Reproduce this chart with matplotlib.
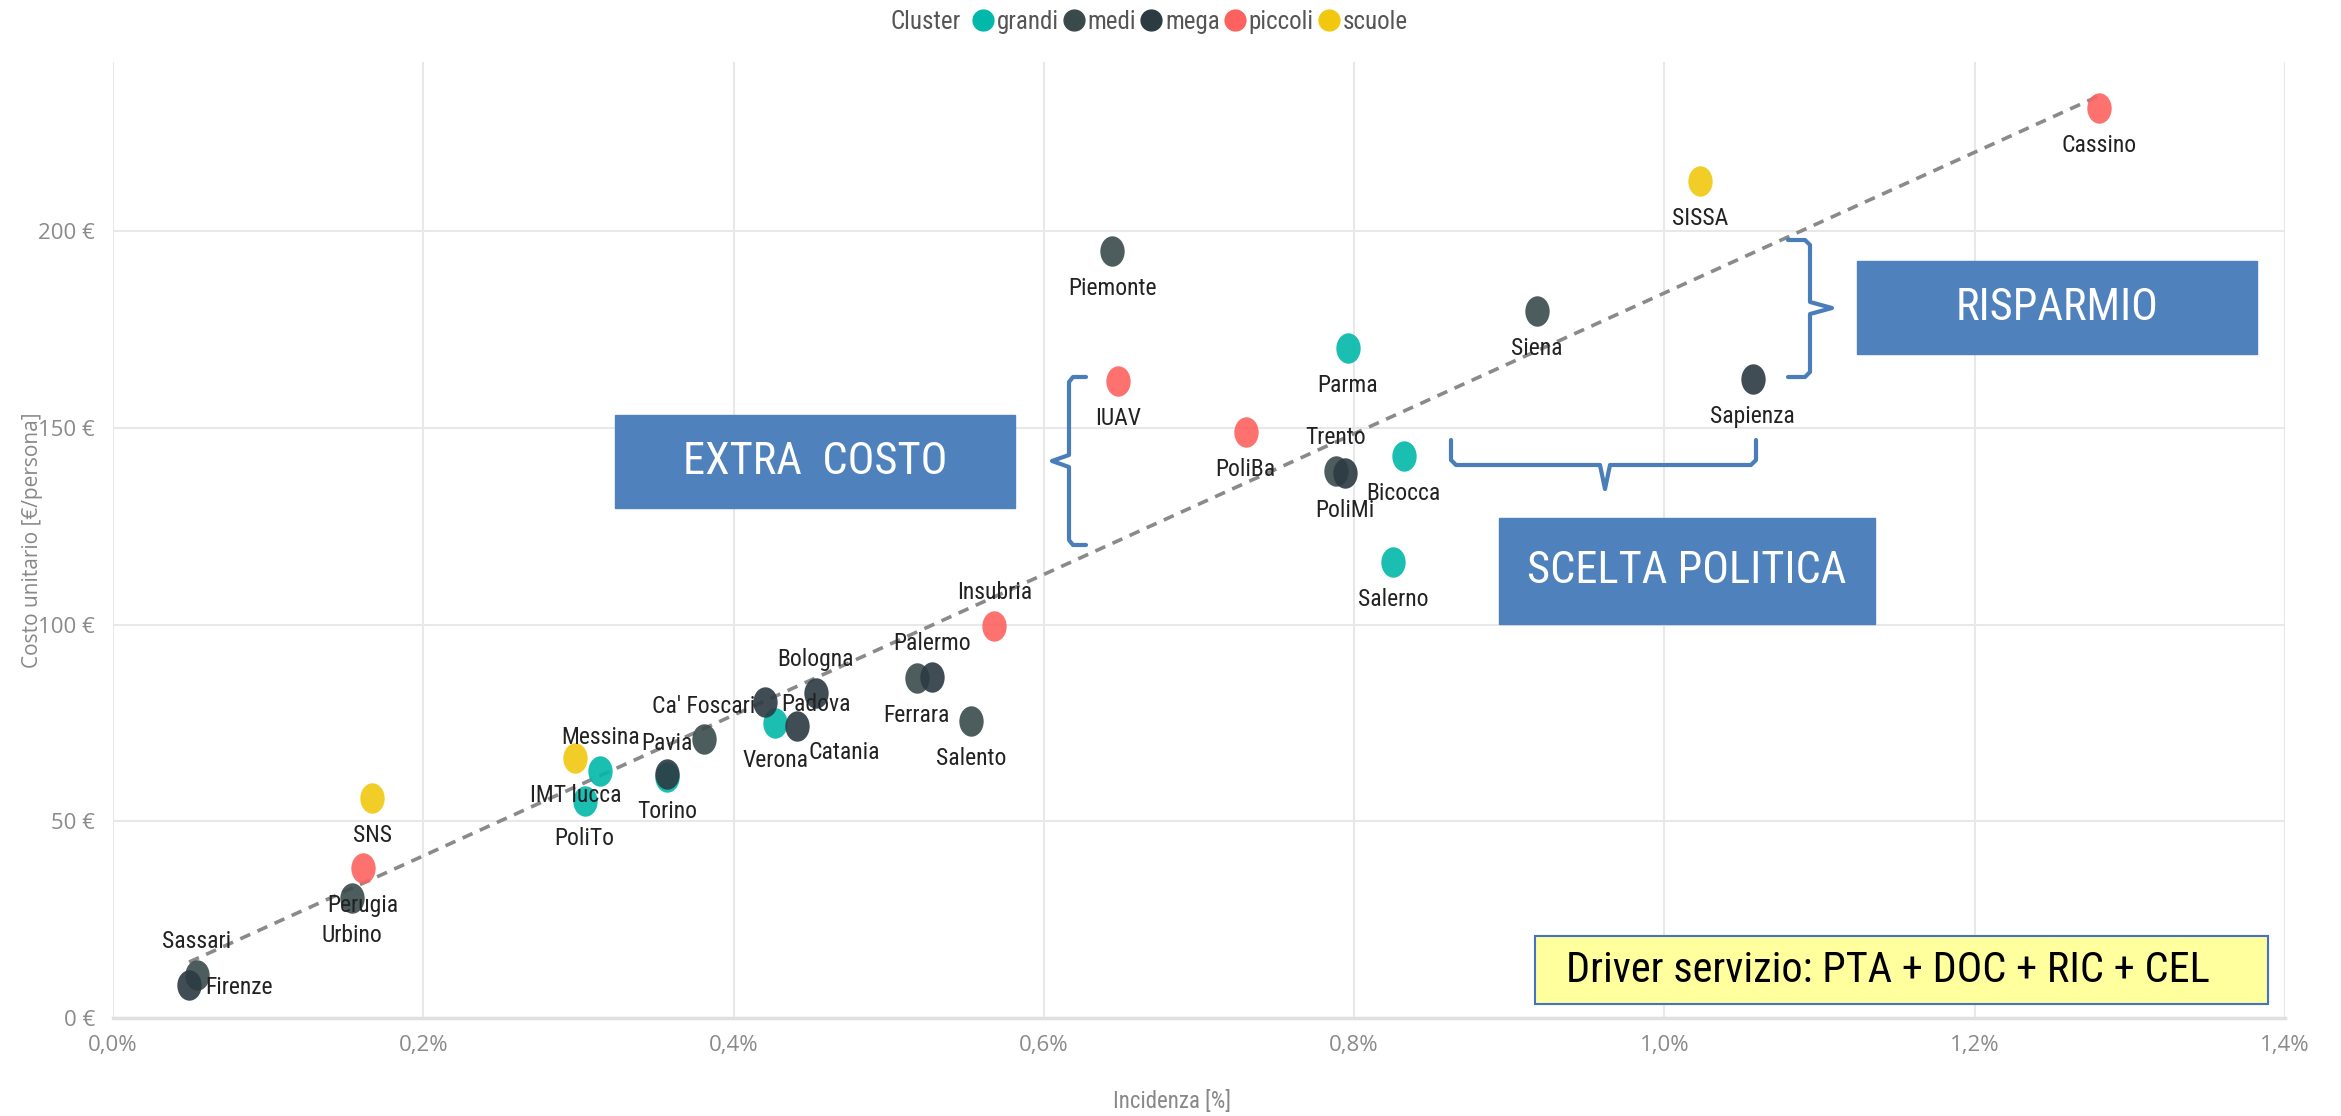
import numpy as np
import matplotlib
matplotlib.use("Agg")
import matplotlib.pyplot as plt
import matplotlib.transforms as mtransforms
from matplotlib import font_manager as fm
from matplotlib.path import Path
from matplotlib.lines import Line2D
from matplotlib.patches import Rectangle

# ---- data ----
names = ["Cassino", "SISSA", "Piemonte", "Siena", "Parma", "Sapienza", "IUAV",
         "PoliBa", "Trento", "PoliMi", "Bicocca", "Salerno", "Insubria",
         "Palermo", "Ferrara", "Salento", "Bologna", "Padova", "Verona",
         "Catania", "Ca' Foscari", "Pavia", "Torino", "Messina", "IMT lucca",
         "PoliTo", "SNS", "Perugia", "Urbino", "Sassari", "Firenze"]
incidenza = [1.280, 1.023, 0.644, 0.918, 0.796, 1.057, 0.648,
             0.730, 0.788, 0.794, 0.832, 0.825, 0.568,
             0.528, 0.518, 0.553, 0.453, 0.420, 0.427,
             0.441, 0.381, 0.357, 0.357, 0.314, 0.298,
             0.304, 0.167, 0.161, 0.154, 0.054, 0.049]
costo = [231.4, 212.7, 194.9, 179.8, 170.2, 162.3, 161.9,
         149.0, 139.0, 138.6, 142.8, 115.8, 99.6,
         86.7, 86.3, 75.4, 82.6, 80.3, 75.0,
         74.2, 70.8, 61.3, 61.9, 62.7, 66.1,
         55.1, 55.8, 38.1, 30.5, 11.0, 8.5]
cluster = ["piccoli", "scuole", "medi", "medi", "grandi", "mega", "piccoli",
           "piccoli", "medi", "mega", "grandi", "grandi", "piccoli",
           "mega", "medi", "medi", "mega", "mega", "grandi",
           "mega", "medi", "grandi", "mega", "grandi", "scuole",
           "grandi", "scuole", "piccoli", "medi", "medi", "mega"]

cluster_names = ["grandi", "medi", "mega", "piccoli", "scuole"]
cluster_colors = {"grandi": "#01B8AA", "medi": "#3A4A4B", "mega": "#2C3A42",
                  "piccoli": "#FD625E", "scuole": "#F2C80F"}

# where each data label sits relative to its dot
label_side = {"Trento": "above", "Insubria": "above", "Palermo": "above",
              "Bologna": "above", "Ca' Foscari": "above", "Pavia": "above",
              "Messina": "above", "Sassari": "above",
              "Padova": "right", "Firenze": "right", "Catania": "below_right"}
offsets = {"below": (0, -27), "above": (0, 24), "right": (12, -2),
           "below_right": (34, -19)}

W, H = 2341, 1116


def pick(*fams):
    for f in fams:
        try:
            fm.findfont(f, fallback_to_default=False)
            return f
        except ValueError:
            continue
    return "DejaVu Sans"


NARROW = pick("Liberation Sans Narrow", "Roboto Condensed", "DejaVu Sans")
UI = pick("Open Sans", "DejaVu Sans")


def fx(x):
    return x / W


def fy(y):
    return 1 - y / H


fig = plt.figure(figsize=(W / 100, H / 100), dpi=100)
ax = fig.add_axes([fx(113), fy(1018), (2285 - 113) / W, (1018 - 62) / H])

ellipse = Path.unit_circle().transformed(mtransforms.Affine2D().scale(0.8, 1.0))

x = np.array(incidenza)
y = np.array(costo)

# trend line (least squares on the points)
k, q = np.polyfit(x, y, 1)
xt = np.array([x.min(), x.max()])
ax.plot(xt, k * xt + q, color="#8a8a8a", lw=2.6, ls=(0, (3, 2.2)), zorder=2)

for c in cluster_names:
    idx = [i for i, cc in enumerate(cluster) if cc == c]
    ax.scatter(x[idx], y[idx], s=480, marker=ellipse, color=cluster_colors[c],
               alpha=0.9, linewidths=0, zorder=3)

for i, n in enumerate(names):
    side = label_side.get(n, "below")
    dx, dy = offsets[side]
    ax.annotate(n, (x[i], y[i]), xytext=(dx, dy), textcoords="offset points",
                ha="left" if side == "right" else "center", va="center",
                fontsize=17, family=NARROW, color="#222222", zorder=4)

ax.set_xlim(0, 1.4)
ax.set_ylim(0, 243)
ax.set_xticks(np.arange(0, 1.41, 0.2))
ax.set_yticks(np.arange(0, 201, 50))
ax.set_xticklabels([f"{v:.1f}%".replace(".", ",") for v in np.arange(0, 1.41, 0.2)])
ax.set_yticklabels([f"{int(v)} €" for v in np.arange(0, 201, 50)])
ax.tick_params(length=0, labelsize=16, labelcolor="#8a8a8a")
ax.tick_params(axis="x", pad=12)
ax.tick_params(axis="y", pad=13)
for lab in ax.get_xticklabels() + ax.get_yticklabels():
    lab.set_family(UI)
ax.grid(True, color="#e8e8e8", lw=1.5)
ax.set_axisbelow(True)
for s in ["top", "right", "left"]:
    ax.spines[s].set_visible(False)
ax.spines["bottom"].set_color("#e0e0e0")
ax.spines["bottom"].set_linewidth(2.5)

ax.set_xlabel("Incidenza [%]", fontsize=16.5, color="#888888", family=NARROW)
ax.xaxis.set_label_coords(0.4876, (1018 - 1090) / 956)
ax.set_ylabel("Costo unitario [€/persona]", fontsize=15, color="#888888", family=UI)
ax.yaxis.set_label_coords(-0.032, 0.5)

# legend on top
fig.text(fx(891), fy(22), "Cluster", fontsize=18, color="#555555", family=NARROW,
         ha="left", va="center")
handles = [Line2D([], [], ls="", marker="o", ms=15, color=cluster_colors[c])
           for c in cluster_names]
fig.legend(handles, cluster_names, ncol=5, loc="center left",
           bbox_to_anchor=(fx(948), fy(22)), frameon=False,
           handletextpad=0.05, columnspacing=0.1, handlelength=1.0,
           prop={"family": NARROW, "size": 18}, labelcolor="#555555")

# annotation boxes
BLUE = "#4F81BD"
boxes = [("EXTRA  COSTO", 615, 415, 1015, 508),
         ("RISPARMIO", 1857, 261, 2257, 354),
         ("SCELTA POLITICA", 1499, 518, 1875, 624)]
for txt, x0, y0, x1, y1 in boxes:
    fig.patches.append(Rectangle((fx(x0), fy(y1)), fx(x1 - x0), (y1 - y0) / H,
                                 transform=fig.transFigure, color=BLUE, zorder=5))
    fig.text(fx((x0 + x1) / 2), fy((y0 + y1) / 2), txt, color="white",
             fontsize=32, family=NARROW, ha="center", va="center", zorder=6)

fig.patches.append(Rectangle((fx(1535), fy(1004)), fx(2268 - 1535), (1004 - 936) / H,
                             transform=fig.transFigure, facecolor="#FFFF9E",
                             edgecolor="#4472C4", lw=1.5, zorder=5))
fig.text(fx(1566), fy(970), "Driver servizio: PTA + DOC + RIC + CEL", color="black",
         fontsize=30.5, family=NARROW, ha="left", va="center", zorder=6)

# braces
braces = [
    [(1086, 377), (1073, 377), (1069, 382), (1069, 455), (1052, 461),
     (1069, 467), (1069, 540), (1073, 545), (1086, 545)],
    [(1788, 240), (1805, 240), (1810, 245), (1810, 302), (1832, 308),
     (1810, 314), (1810, 372), (1805, 377), (1788, 377)],
    [(1451, 440), (1451, 460), (1456, 465), (1600, 465), (1605, 489),
     (1610, 465), (1751, 465), (1756, 460), (1756, 440)],
]
for pts in braces:
    bx = [fx(p[0]) for p in pts]
    by = [fy(p[1]) for p in pts]
    fig.lines.append(Line2D(bx, by, transform=fig.transFigure, color="#4A7EBB",
                            lw=3, solid_joinstyle="round", solid_capstyle="round",
                            zorder=5))

fig.savefig("out.png", dpi=100)
